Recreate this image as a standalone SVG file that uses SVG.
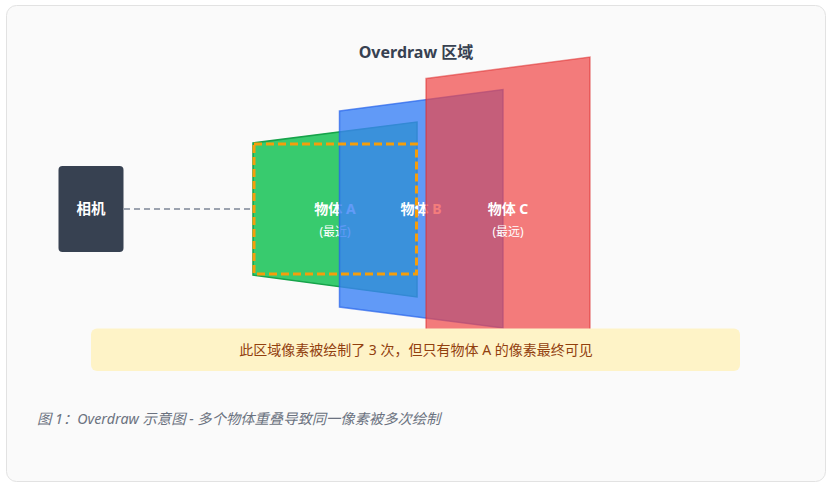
<svg xmlns="http://www.w3.org/2000/svg" width="834" height="488" viewBox="0 0 834 488">
<style>
text{font-family:"Noto Sans","Noto Sans CJK SC",sans-serif}
.lbl{fill:#ffffff;font-size:14px;font-weight:bold;text-anchor:middle}
.sub{fill:#ffffff;font-size:12px;text-anchor:middle}
</style>
<rect x="6.5" y="5.5" width="819" height="476" rx="10" fill="#fafafa" stroke="#e2e2e2"/>
<text x="416" y="58" font-size="16" font-weight="bold" fill="#374151" text-anchor="middle">Overdraw 区域</text>
<g id="camera">
<rect x="58.5" y="166" width="65" height="86" rx="4" fill="#374151"/>
<text x="91" y="214" fill="#ffffff" font-size="14.5" font-weight="bold" text-anchor="middle">相机</text>
</g>
<g id="connectors">
<line x1="124" y1="209" x2="251" y2="209" stroke="#9ca3af" stroke-width="2" stroke-dasharray="6,4"/>
</g>
<g id="objA">
<polygon points="253,143 417,122 417,297 253,275" fill="#22c55e" fill-opacity="0.9" stroke="#16a34a" stroke-width="1.5"/>
<text class="lbl" x="335" y="214">物体 A</text>
<text class="sub" x="335" y="236">(最近)</text>
</g>
<g id="objB">
<polygon points="339.5,111 503,89.5 503,328 339.5,307" fill="#3b82f6" fill-opacity="0.8" stroke="#2563eb" stroke-width="1.5" stroke-opacity="0.7"/>
<text class="lbl" x="421" y="214">物体 B</text>
</g>
<g id="objC">
<polygon points="426,78.5 590,57 590,340 426,340" fill="#ef4444" fill-opacity="0.7" stroke="#dc2626" stroke-width="1.5" stroke-opacity="0.5"/>
<text class="lbl" x="508" y="214">物体 C</text>
<text class="sub" x="508" y="236">(最远)</text>
</g>
<g id="overdraw-region">
<rect x="254" y="144" width="162.5" height="130" fill="none" stroke="#f59e0b" stroke-width="3" stroke-dasharray="8,4"/>
</g>
<g id="note">
<rect x="91" y="328.5" width="649" height="42.5" rx="6" fill="#fef3c7"/>
<text x="416" y="355" font-size="14" fill="#92400e" text-anchor="middle">此区域像素被绘制了 3 次，但只有物体 A 的像素最终可见</text>
</g>
<text x="37" y="424" font-size="14.3" font-style="italic" fill="#6b7280">图 1：Overdraw 示意图 - 多个物体重叠导致同一像素被多次绘制</text>
</svg>
